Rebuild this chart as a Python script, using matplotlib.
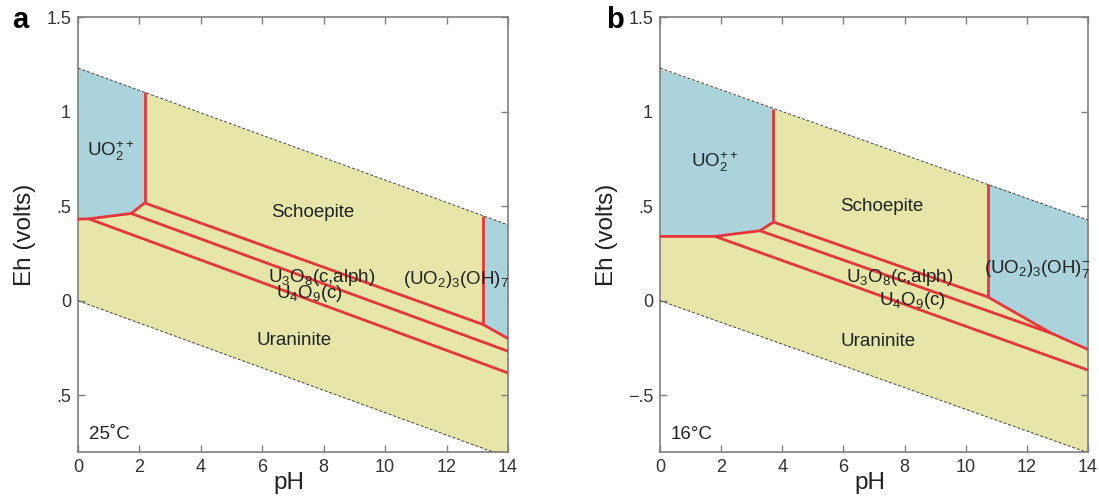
import numpy as np
import matplotlib
matplotlib.use('Agg')
import matplotlib.pyplot as plt

plt.rcParams['font.family'] = ['Liberation Sans', 'DejaVu Sans']
plt.rcParams['mathtext.fontset'] = 'custom'
plt.rcParams['mathtext.rm'] = 'Liberation Sans'
plt.rcParams['mathtext.it'] = 'Liberation Sans:italic'

BLUE = '#aad3dc'
YELLOW = '#e5e6a8'
RED = '#e8353a'
GREY = '#7f7f7f'

# water stability limits: Eh at pH 0 and slope (V per pH unit)
water_a = {'top0': 1.23, 'bot0': 0.0, 'slope': 0.0592}
water_b = {'top0': 1.23, 'bot0': 0.0, 'slope': 0.0574}

# ---- panel a (25 C) ----
a_uo2_ph = [0.0, 2.17, 2.17, 1.73, 0.35, 0.0]
a_uo2_eh = [1.23, 1.102, 0.517, 0.461, 0.433, 0.431]
a_oh7_ph = [13.19, 14.0, 14.0, 13.19]
a_oh7_eh = [0.449, 0.401, -0.20, -0.126]

a_lines = [
    ([2.17, 2.17], [1.102, 0.517]),                       # UO2++ / schoepite
    ([0.0, 0.35, 1.73, 2.17], [0.431, 0.433, 0.461, 0.517]),  # UO2++ lower edge
    ([2.17, 13.19], [0.517, -0.126]),                     # schoepite / U3O8
    ([13.19, 13.19], [0.449, -0.126]),                    # schoepite / (UO2)3(OH)7
    ([13.19, 14.0], [-0.126, -0.20]),                     # (UO2)3(OH)7 / U3O8
    ([1.73, 14.0], [0.461, -0.267]),                      # U3O8 / U4O9
    ([0.35, 14.0], [0.433, -0.382]),                      # U4O9 / uraninite
]

a_labels = [
    (0.3, 0.79, r'UO$_2^{++}$'),
    (6.3, 0.465, 'Schoepite'),
    (6.2, 0.12, r'U$_3$O$_8$(c,alph)'),
    (6.45, 0.04, r'U$_4$O$_9$(c)'),
    (10.57, 0.11, r'(UO$_2$)$_3$(OH)$_7$'),
    (5.8, -0.21, 'Uraninite'),
]

# ---- panel b (16 C) ----
b_uo2_ph = [0.0, 3.71, 3.71, 3.27, 1.8, 0.0]
b_uo2_eh = [1.225, 1.015, 0.416, 0.37, 0.34, 0.34]
b_oh7_ph = [10.72, 14.0, 14.0, 12.8, 10.72]
b_oh7_eh = [0.618, 0.426, -0.258, -0.172, 0.02]

b_lines = [
    ([3.71, 3.71], [1.015, 0.416]),
    ([0.0, 1.8, 3.27, 3.71], [0.34, 0.34, 0.37, 0.416]),
    ([3.71, 10.72], [0.416, 0.02]),
    ([10.72, 10.72], [0.618, 0.02]),
    ([10.72, 12.8, 14.0], [0.02, -0.172, -0.258]),
    ([3.27, 12.8], [0.37, -0.172]),
    ([1.8, 14.0], [0.34, -0.367]),
]

b_labels = [
    (1.0, 0.73, r'UO$_2^{++}$'),
    (5.89, 0.50, 'Schoepite'),
    (6.1, 0.12, r'U$_3$O$_8$(c,alph)'),
    (7.17, 0.0, r'U$_4$O$_9$(c)'),
    (10.6, 0.17, r'(UO$_2$)$_3$(OH)$_7^{-}$'),
    (5.92, -0.215, 'Uraninite'),
]

xticks = [0, 2, 4, 6, 8, 10, 12, 14]
yticks = [-0.5, 0, 0.5, 1, 1.5]
a_ylabels = ['.5', '0', '.5', '1', '1.5']
b_ylabels = ['\u2212.5', '0', '.5', '1', '1.5']


def draw(ax, water, uo2, oh7, lines, labels, temp, ylabels):
    ph = np.array([0.0, 14.0])
    top = water['top0'] - water['slope'] * ph
    bot = water['bot0'] - water['slope'] * ph
    ax.fill_between(ph, bot, top, color=YELLOW, lw=0, zorder=1)
    ax.fill(uo2[0], uo2[1], color=BLUE, lw=0, zorder=2)
    ax.fill(oh7[0], oh7[1], color=BLUE, lw=0, zorder=2)
    ax.plot(ph, top, ls=(0, (3, 2)), color='#444444', lw=0.7, zorder=3)
    ax.plot(ph, bot, ls=(0, (3, 2)), color='#444444', lw=0.7, zorder=3)
    for xs, ys in lines:
        ax.plot(xs, ys, color=RED, lw=2, solid_capstyle='butt', zorder=4)
    for x, y, s in labels:
        ax.text(x, y, s, fontsize=13.5, color='#222222', ha='left', va='center', zorder=5)
    ax.text(0.36, -0.71, temp, fontsize=13.5, color='#222222', ha='left', va='center',
            family=['Liberation Sans', 'DejaVu Sans'])

    ax.set_xlim(0, 14)
    ax.set_ylim(-0.8, 1.5)
    ax.set_xticks(xticks)
    ax.set_yticks(yticks)
    ax.set_yticklabels(ylabels)
    ax.tick_params(direction='in', top=True, right=True, length=5, width=1,
                   color=GREY, labelsize=13, labelcolor='#333333', pad=5)
    for sp in ax.spines.values():
        sp.set_color(GREY)
        sp.set_linewidth(1.2)
    ax.set_xlabel('pH', fontsize=17.5, color='#222222')
    ax.set_ylabel('Eh (volts)', fontsize=17.5, color='#222222')
    ax.xaxis.set_label_coords(0.49, -0.045)
    ax.yaxis.set_label_coords(-0.098, 0.5)


fig = plt.figure(figsize=(10.99, 5.0), dpi=100)
ax_a = fig.add_axes([78 / 1099, 1 - 452 / 500, 430 / 1099, 435 / 500])
ax_b = fig.add_axes([660 / 1099, 1 - 452 / 500, 428 / 1099, 435 / 500])

draw(ax_a, water_a, (a_uo2_ph, a_uo2_eh), (a_oh7_ph, a_oh7_eh), a_lines, a_labels,
     '25\u02daC', a_ylabels)
draw(ax_b, water_b, (b_uo2_ph, b_uo2_eh), (b_oh7_ph, b_oh7_eh), b_lines, b_labels,
     '16\u00b0C', b_ylabels)

fig.text(12 / 1099, 1 - 20 / 500, 'a', fontsize=21, fontweight='bold', va='center')
fig.text(606 / 1099, 1 - 20 / 500, 'b', fontsize=21, fontweight='bold', va='center')

fig.savefig('out.png', dpi=100)
